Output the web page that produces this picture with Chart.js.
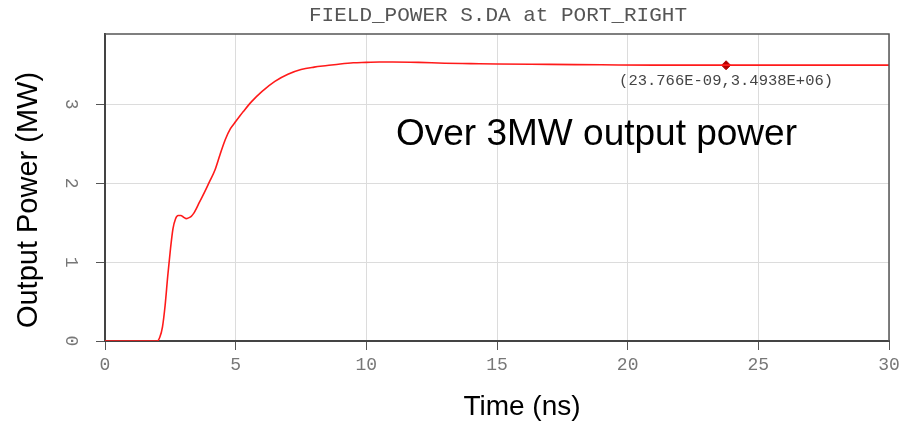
<!DOCTYPE html>
<html>
<head>
<meta charset="utf-8">
<script src="https://cdn.jsdelivr.net/npm/chart.js@4.4.1/dist/chart.umd.min.js"></script>
<style>
  html, body { margin: 0; padding: 0; background: #fff; }
  #wrap { width: 902px; height: 425px; }
</style>
</head>
<body>
<div id="wrap"><canvas id="chart" width="902" height="425"></canvas></div>
<script>
// time in ns, power in MW
const times = [0, 1, 2.0, 2.1, 2.2, 2.3, 2.4, 2.5, 2.6, 2.7, 2.8, 2.9, 3.0, 3.1, 3.2, 3.3, 3.4, 3.5, 3.6, 3.8,
  4.0, 4.2, 4.4, 4.6, 4.8, 5.0, 5.3, 5.6, 6.0, 6.5, 7.0, 7.5, 8.0, 8.5, 9.0, 9.5, 10, 10.5, 11, 12, 13, 14,
  15, 17, 19, 21, 23, 25, 27, 30];
const power = [0, 0, 0, 0.05, 0.18, 0.45, 0.82, 1.15, 1.42, 1.55, 1.59, 1.59, 1.57, 1.55, 1.56, 1.58, 1.62, 1.68, 1.75, 1.88,
  2.02, 2.16, 2.36, 2.55, 2.69, 2.78, 2.91, 3.03, 3.16, 3.29, 3.38, 3.44, 3.47, 3.49, 3.51, 3.525, 3.53, 3.535, 3.535, 3.53, 3.52, 3.515,
  3.51, 3.505, 3.50, 3.495, 3.495, 3.495, 3.495, 3.495];
const xTicks = [0, 5, 10, 15, 20, 25, 30];
const yTicks = [0, 1, 2, 3];
const markerT = 23.766;
const markerP = 3.4938;

const titleText = 'FIELD_POWER S.DA at PORT_RIGHT';
const markerText = '(23.766E-09,3.4938E+06)';
const noteText = 'Over 3MW output power';
const xTitle = 'Time (ns)';
const yTitle = 'Output Power (MW)';

const mono = '"Liberation Mono", "DejaVu Sans Mono", monospace';
const sans = '"Liberation Sans", Arial, sans-serif';

// text, frame and rotated y labels
const decorPlugin = {
  id: 'decor',
  afterDraw(chart) {
    const { ctx, chartArea: a, scales } = chart;
    ctx.save();

    // top + right frame lines
    ctx.strokeStyle = '#555';
    ctx.lineWidth = 1.5;
    ctx.beginPath();
    ctx.moveTo(a.left, a.top);
    ctx.lineTo(a.right, a.top);
    ctx.lineTo(a.right, a.bottom);
    ctx.stroke();

    // y tick labels, turned clockwise
    ctx.fillStyle = '#777';
    ctx.font = '18px ' + mono;
    ctx.textAlign = 'center';
    ctx.textBaseline = 'middle';
    yTicks.forEach(v => {
      const y = scales.y.getPixelForValue(v);
      ctx.save();
      ctx.translate(70.5, y);
      ctx.rotate(Math.PI / 2);
      ctx.fillText(String(v), 0, 0);
      ctx.restore();
    });

    // title
    ctx.fillStyle = '#555';
    ctx.font = '21px ' + mono;
    ctx.fillText(titleText, 498, 15);

    // axis titles
    ctx.fillStyle = '#000';
    ctx.font = '28px ' + sans;
    ctx.fillText(xTitle, 522, 407);
    ctx.save();
    ctx.translate(29, 200);
    ctx.rotate(-Math.PI / 2);
    ctx.font = '29px ' + sans;
    ctx.fillText(yTitle, 0, 0);
    ctx.restore();

    // note
    ctx.font = '37px ' + sans;
    ctx.textAlign = 'left';
    ctx.fillText(noteText, 396, 135);

    // marker readout
    const mx = scales.x.getPixelForValue(markerT);
    const my = scales.y.getPixelForValue(markerP);
    ctx.fillStyle = '#444';
    ctx.font = '15.5px ' + mono;
    ctx.textAlign = 'center';
    ctx.fillText(markerText, mx, my + 16);

    ctx.restore();
  }
};

new Chart(document.getElementById('chart'), {
  type: 'line',
  data: {
    datasets: [{
      data: times.map((t, i) => ({ x: t, y: power[i] })),
      borderColor: '#ff1a1a',
      borderWidth: 1.6,
      pointRadius: 0,
      cubicInterpolationMode: 'monotone',
      fill: false
    }, {
      data: [{ x: markerT, y: markerP }],
      showLine: false,
      pointStyle: 'rectRot',
      pointRadius: 4.5,
      pointBackgroundColor: '#b00000',
      pointBorderColor: '#b00000'
    }]
  },
  options: {
    responsive: false,
    animation: false,
    devicePixelRatio: 1,
    layout: { padding: { top: 34, right: 13, left: 0, bottom: 0 } },
    plugins: { legend: { display: false }, tooltip: { enabled: false } },
    scales: {
      x: {
        type: 'linear',
        min: 0,
        max: 30,
        afterBuildTicks: s => { s.ticks = xTicks.map(v => ({ value: v })); },
        afterFit: s => { s.height = 84; s.paddingLeft = 0; s.paddingRight = 0; },
        grid: { color: '#dcdcdc', lineWidth: 1, tickColor: '#555', tickLength: 9 },
        border: { color: '#444', width: 2 },
        ticks: { color: '#777', font: { family: mono, size: 18 }, padding: 4, maxRotation: 0 }
      },
      y: {
        type: 'linear',
        min: 0,
        max: 3.89,
        afterBuildTicks: s => { s.ticks = yTicks.map(v => ({ value: v })); },
        afterFit: s => { s.width = 105; },
        grid: { color: '#dcdcdc', lineWidth: 1, tickColor: '#555', tickLength: 9 },
        border: { color: '#444', width: 2 },
        ticks: { display: false }
      }
    }
  },
  plugins: [decorPlugin]
});
</script>
</body>
</html>
